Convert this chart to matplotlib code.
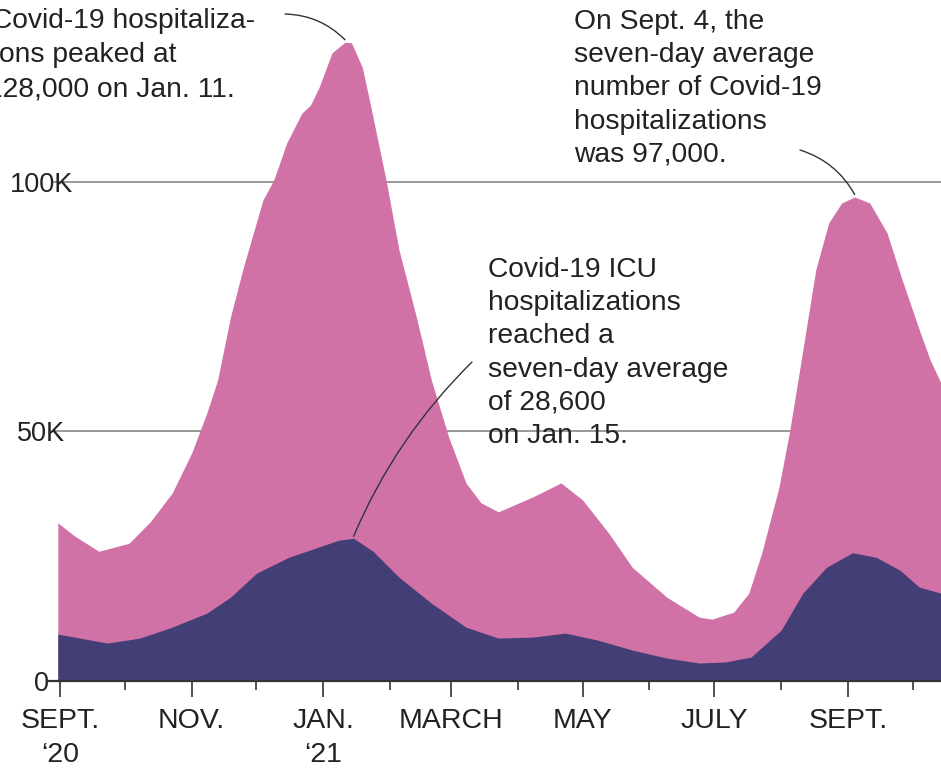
import pandas as pd
import matplotlib
matplotlib.use('Agg')
import matplotlib.pyplot as plt
import matplotlib.dates as mdates

# seven-day average, thousands
total_dates = ['2020-08-31', '2020-09-08', '2020-09-19', '2020-10-03', '2020-10-13',
               '2020-10-23', '2020-11-01', '2020-11-08', '2020-11-13', '2020-11-19',
               '2020-11-25', '2020-12-04', '2020-12-09', '2020-12-15', '2020-12-22',
               '2020-12-26', '2020-12-30', '2021-01-05', '2021-01-11', '2021-01-14',
               '2021-01-19', '2021-01-23', '2021-01-30', '2021-02-05', '2021-02-13',
               '2021-02-20', '2021-02-28', '2021-03-08', '2021-03-15', '2021-03-23',
               '2021-04-08', '2021-04-21', '2021-05-01', '2021-05-13', '2021-05-24',
               '2021-06-09', '2021-06-24', '2021-06-30', '2021-07-10', '2021-07-17',
               '2021-07-23', '2021-07-31', '2021-08-05', '2021-08-11', '2021-08-17',
               '2021-08-23', '2021-08-29', '2021-09-04', '2021-09-11', '2021-09-19',
               '2021-09-26', '2021-10-04', '2021-10-09', '2021-10-14']
total_k = [31.7, 29.0, 26.0, 27.6, 32.0, 37.7, 45.7, 53.7, 60.3, 73, 83, 96.4, 100.4,
           107.8, 113.8, 115.4, 119, 125.9, 128, 127.9, 123, 115, 100.4, 86.4, 73,
           60.3, 48.9, 39.7, 35.7, 33.9, 36.9, 39.7, 36.3, 29.7, 22.8, 16.8, 12.8,
           12.4, 13.8, 17.6, 25.7, 38.9, 50.3, 66.3, 82.4, 91.8, 95.8, 97, 95.8,
           89.8, 80.4, 70.3, 64.3, 59.7]

icu_dates = ['2020-08-31', '2020-09-23', '2020-10-08', '2020-10-23', '2020-11-08',
             '2020-11-19', '2020-12-01', '2020-12-16', '2021-01-08', '2021-01-15',
             '2021-01-24', '2021-02-05', '2021-02-20', '2021-03-08', '2021-03-23',
             '2021-04-08', '2021-04-23', '2021-05-08', '2021-05-24', '2021-06-09',
             '2021-06-24', '2021-07-06', '2021-07-18', '2021-08-01', '2021-08-11',
             '2021-08-22', '2021-09-03', '2021-09-14', '2021-09-25', '2021-10-04',
             '2021-10-14']
icu_k = [9.4, 7.6, 8.6, 10.8, 13.6, 16.8, 21.6, 24.8, 28.2, 28.6, 26.0, 20.8, 15.6,
         10.8, 8.6, 8.8, 9.6, 8.2, 6.2, 4.6, 3.6, 3.8, 4.8, 10.2, 17.6, 22.8, 25.7,
         24.8, 22.2, 18.8, 17.6]

month_ticks = ['2020-09-01', '2020-11-01', '2021-01-01', '2021-03-01', '2021-05-01',
               '2021-07-01', '2021-09-01']
month_labels = ['SEPT.\n\u201820', 'NOV.', 'JAN.\n\u201821', 'MARCH', 'MAY', 'JULY', 'SEPT.']
y_ticks = [0, 50000, 100000]
y_labels = ['0', '50K', '100K']

PINK = '#d172a7'
NAVY = '#433e75'
TXT = '#222222'

plt.rcParams['font.family'] = ['Liberation Sans', 'DejaVu Sans']

td = pd.to_datetime(total_dates)
idt = pd.to_datetime(icu_dates)
tot = [v * 1000 for v in total_k]
icu = [v * 1000 for v in icu_k]

fig = plt.figure(figsize=(9.41, 7.68), dpi=100)
ax = fig.add_axes([58 / 941, 87 / 768, 883 / 941, 681 / 768])

ax.fill_between(td, 0, tot, color=PINK, lw=0, zorder=2)
ax.fill_between(idt, 0, icu, color=NAVY, lw=0, zorder=3)

start = pd.Timestamp('2020-09-01')
ax.set_xlim(mdates.date2num(start) - 0.9, mdates.date2num(start) + 408)
ax.set_ylim(0, 136470)

for s in ['top', 'right', 'left']:
    ax.spines[s].set_visible(False)
ax.spines['bottom'].set_color('#333333')
ax.spines['bottom'].set_linewidth(1.6)
ax.spines['bottom'].set_zorder(5)

for yv in y_ticks[1:]:
    ax.axhline(yv, xmin=-0.004, xmax=1, color='#999999', lw=1.4, zorder=1, clip_on=False)
ax.axhline(0, xmin=-0.012, xmax=0, color='#333333', lw=1.6, clip_on=False)

ax.set_yticks(y_ticks)
ax.set_yticklabels(y_labels, fontsize=19.5, color=TXT,
                   family=['Liberation Sans Narrow', 'Liberation Sans'])
ax.tick_params(axis='y', length=0, pad=12)
for lab in ax.get_yticklabels():
    lab.set_ha('center')

ax.set_xticks(mdates.date2num(pd.to_datetime(month_ticks)))
ax.set_xticklabels(month_labels, fontsize=20.5, color=TXT, linespacing=1.4)
ax.xaxis.set_minor_locator(mdates.MonthLocator())
ax.tick_params(axis='x', which='major', length=11.5, width=1.2, color='#333333', pad=8)
ax.tick_params(axis='x', which='minor', length=6.5, width=1.2, color='#333333')

fs = 20.3
# left annotation, cut at the frame edge
fig.text(-8 / 941, 1 - 28 / 768, 'Covid-19 hospitaliza-', fontsize=fs, color=TXT, va='baseline')
fig.text(-15 / 941, 1 - 62 / 768, 'tions peaked at', fontsize=fs, color=TXT, va='baseline')
fig.text(-13 / 941, 1 - 96 / 768, '128,000 on Jan. 11.', fontsize=fs, color=TXT, va='baseline')

fig.text(574 / 941, 1 - 9 / 768,
         'On Sept. 4, the\nseven-day average\nnumber of Covid-19\nhospitalizations\nwas 97,000.',
         fontsize=fs, color=TXT, va='top', linespacing=1.36)
fig.text(488 / 941, 1 - 257 / 768,
         'Covid-19 ICU\nhospitalizations\nreached a\nseven-day average\nof 28,600\non Jan. 15.',
         fontsize=fs, color=TXT, va='top', linespacing=1.36)

line = dict(arrowstyle='-', color='#333333', lw=1.0, shrinkA=0, shrinkB=0)
ax.annotate('', xy=(pd.Timestamp('2021-01-11'), 128500), xytext=(285, 768 - 14),
            textcoords='figure pixels',
            arrowprops=dict(line, connectionstyle='arc3,rad=-0.2'))
ax.annotate('', xy=(pd.Timestamp('2021-01-15'), 29000), xytext=(472, 768 - 362),
            textcoords='figure pixels',
            arrowprops=dict(line, connectionstyle='arc3,rad=0.1'))
ax.annotate('', xy=(pd.Timestamp('2021-09-04'), 97500), xytext=(800, 768 - 150),
            textcoords='figure pixels',
            arrowprops=dict(line, connectionstyle='arc3,rad=-0.2'))

fig.savefig('out.png', dpi=100)
